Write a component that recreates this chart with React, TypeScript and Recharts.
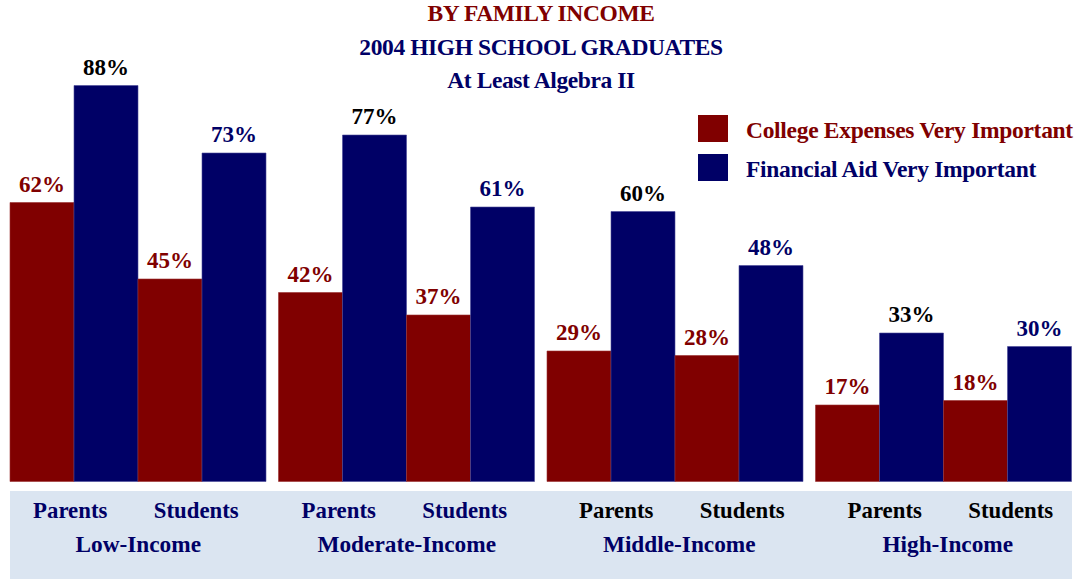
import { BarChart, Bar, XAxis, YAxis, LabelList } from 'recharts';

const incomeGroups = ['Low-Income', 'Moderate-Income', 'Middle-Income', 'High-Income'];
const respondents = ['Parents', 'Students'];
const parentsExpenses = [62, 42, 29, 17];
const parentsAid = [88, 77, 60, 33];
const studentsExpenses = [45, 37, 28, 18];
const studentsAid = [73, 61, 48, 30];

const titleLines = ['BY FAMILY INCOME', '2004 HIGH SCHOOL GRADUATES', 'At Least Algebra II'];
const legendItems = ['College Expenses Very Important', 'Financial Aid Very Important'];

const RED = '#800000';
const NAVY = '#000066';
const FONT = '"Liberation Serif", "Times New Roman", serif';

const data = incomeGroups.map((group, i) => ({
    group,
    parentsExpenses: parentsExpenses[i],
    parentsAid: parentsAid[i],
    studentsExpenses: studentsExpenses[i],
    studentsAid: studentsAid[i],
}));

const GroupTick = (props: any) => {
    const { x, y, payload, index } = props;
    // the first two groups are navy and sit a little further left
    const early = index < 2;
    const subColor = early ? NAVY : '#000';
    return (
        <g fontFamily={FONT} fontWeight="bold" textAnchor="middle">
            <text x={x + (early ? -68 : -59)} y={y + 36.5} fill={subColor} fontSize={22.8}>{respondents[0]}</text>
            <text x={x + (early ? 58 : 67)} y={y + 36.5} fill={subColor} fontSize={22.8}>{respondents[1]}</text>
            <text x={x + (early ? 0 : 4)} y={y + 70.5} fill={NAVY} fontSize={23.3}>{payload.value}</text>
        </g>
    );
};

const pct = (v: any) => `${v}%`;

const labelStyle = { fontFamily: FONT, fontWeight: 'bold', fontSize: 23 };

export default function App() {
    return (
        <div style={{ position: 'absolute', left: 0, top: 0, width: 1076, height: 579, overflow: 'hidden', background: '#fff', fontFamily: FONT }}>
            <div style={{ position: 'absolute', left: 10, top: 491, width: 1062, height: 88, background: '#dbe5f1' }} />
            <div style={{ position: 'absolute', left: 0, top: -3, width: 1082, textAlign: 'center', fontWeight: 'bold', fontSize: 23.5, lineHeight: '33.5px', letterSpacing: -0.4 }}>
                {titleLines.map((t, i) => (
                    <div key={t} style={{ color: i === 0 ? RED : NAVY }}>{t}</div>
                ))}
            </div>
            <div style={{ position: 'absolute', left: 698, top: 115, fontWeight: 'bold', fontSize: 23.5, letterSpacing: -0.3 }}>
                {legendItems.map((t, i) => (
                    <div key={t} style={{ display: 'flex', alignItems: 'center', height: 27, marginBottom: 12, whiteSpace: 'nowrap' }}>
                        <div style={{ width: 30, height: 27, background: i === 0 ? RED : NAVY }} />
                        <span style={{ marginLeft: 18, color: i === 0 ? RED : NAVY, position: 'relative', top: 2 }}>{t}</span>
                    </div>
                ))}
            </div>
            <BarChart
                width={1082}
                height={579}
                data={data}
                margin={{ top: 31.5, right: 4, bottom: 0, left: 4 }}
                barGap={0}
                barCategoryGap={6}
                style={{ position: 'absolute', left: 0, top: 0 }}
            >
                <XAxis
                    dataKey="group"
                    axisLine={false}
                    tickLine={false}
                    tickSize={0}
                    tickMargin={0}
                    height={97.5}
                    interval={0}
                    tick={<GroupTick />}
                />
                <YAxis hide domain={[0, 100]} />
                <Bar dataKey="parentsExpenses" fill={RED} stroke="#9a3030" strokeWidth={0.6} isAnimationActive={false}>
                    <LabelList dataKey="parentsExpenses" position="top" offset={11} formatter={pct} fill={RED} style={labelStyle} />
                </Bar>
                <Bar dataKey="parentsAid" fill={NAVY} stroke="#4a4a99" strokeWidth={0.6} isAnimationActive={false}>
                    <LabelList dataKey="parentsAid" position="top" offset={11} formatter={pct} fill="#000" style={labelStyle} />
                </Bar>
                <Bar dataKey="studentsExpenses" fill={RED} stroke="#9a3030" strokeWidth={0.6} isAnimationActive={false}>
                    <LabelList dataKey="studentsExpenses" position="top" offset={11} formatter={pct} fill={RED} style={labelStyle} />
                </Bar>
                <Bar dataKey="studentsAid" fill={NAVY} stroke="#4a4a99" strokeWidth={0.6} isAnimationActive={false}>
                    <LabelList dataKey="studentsAid" position="top" offset={11} formatter={pct} fill={NAVY} style={labelStyle} />
                </Bar>
            </BarChart>
        </div>
    );
}
